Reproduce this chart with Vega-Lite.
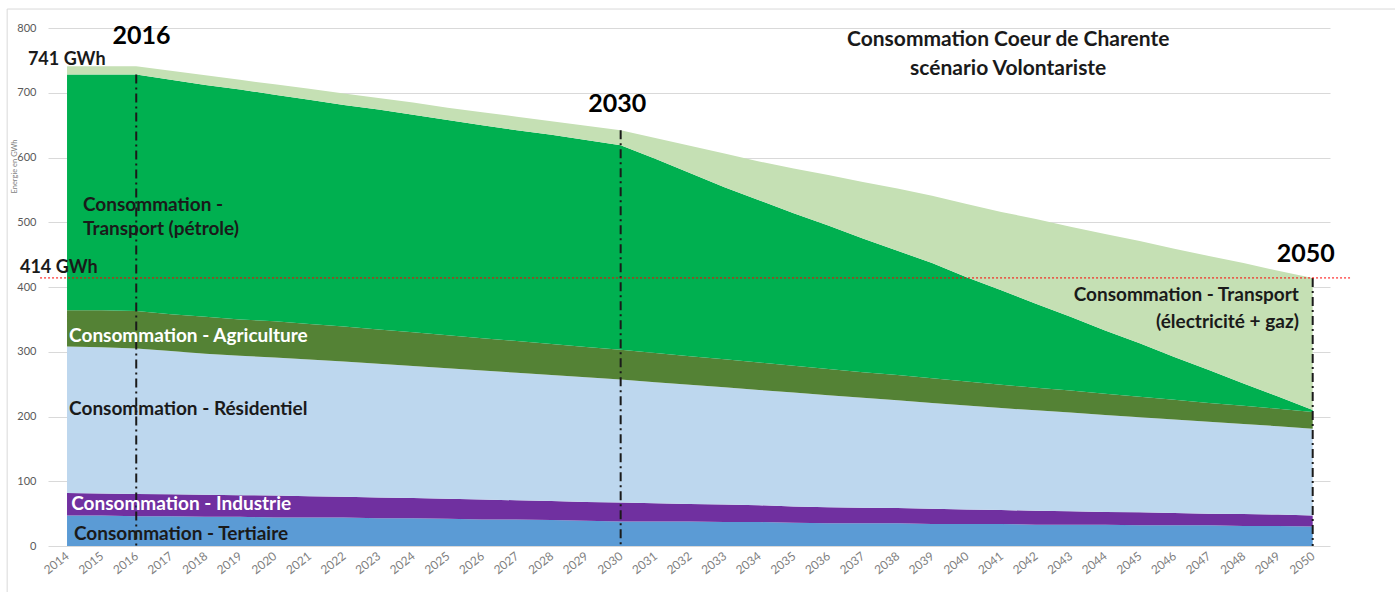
{
  "$schema": "https://vega.github.io/schema/vega-lite/v6.json",
  "width": 1282,
  "height": 518,
  "autosize": "none",
  "padding": {"left": 48, "top": 28, "right": 65, "bottom": 46},
  "background": "white",
  "config": {
    "view": {"stroke": null},
    "font": "Lato"
  },
  "datasets": {
    "rangs": [
      {"secteur": "tertiaire", "rang": 1},
      {"secteur": "industrie", "rang": 2},
      {"secteur": "residentiel", "rang": 3},
      {"secteur": "agriculture", "rang": 4},
      {"secteur": "petrole", "rang": 5},
      {"secteur": "elec_gaz", "rang": 6}
    ],
    "conso": [
      {"year": 2014, "tertiaire": 47, "industrie": 35, "residentiel": 226, "agriculture": 56, "petrole": 364, "elec_gaz": 13},
      {"year": 2015, "tertiaire": 47, "industrie": 34, "residentiel": 226, "agriculture": 57, "petrole": 364, "elec_gaz": 13},
      {"year": 2016, "tertiaire": 46, "industrie": 34.5, "residentiel": 224.5, "agriculture": 58, "petrole": 365, "elec_gaz": 13},
      {"year": 2017, "tertiaire": 46, "industrie": 34, "residentiel": 221, "agriculture": 57, "petrole": 362, "elec_gaz": 14},
      {"year": 2018, "tertiaire": 45, "industrie": 34, "residentiel": 218, "agriculture": 57, "petrole": 358, "elec_gaz": 15},
      {"year": 2019, "tertiaire": 45, "industrie": 33.5, "residentiel": 215.5, "agriculture": 56, "petrole": 355, "elec_gaz": 15},
      {"year": 2020, "tertiaire": 44, "industrie": 34, "residentiel": 213, "agriculture": 56, "petrole": 350, "elec_gaz": 16},
      {"year": 2021, "tertiaire": 44, "industrie": 33, "residentiel": 211, "agriculture": 55, "petrole": 346, "elec_gaz": 17},
      {"year": 2022, "tertiaire": 44, "industrie": 32, "residentiel": 209, "agriculture": 54, "petrole": 342, "elec_gaz": 18},
      {"year": 2023, "tertiaire": 43, "industrie": 32, "residentiel": 206.5, "agriculture": 53, "petrole": 339.5, "elec_gaz": 18},
      {"year": 2024, "tertiaire": 43, "industrie": 31, "residentiel": 204, "agriculture": 52, "petrole": 336, "elec_gaz": 19},
      {"year": 2025, "tertiaire": 42, "industrie": 31, "residentiel": 201.5, "agriculture": 51, "petrole": 332.5, "elec_gaz": 19},
      {"year": 2026, "tertiaire": 41, "industrie": 31, "residentiel": 199, "agriculture": 50, "petrole": 329, "elec_gaz": 20},
      {"year": 2027, "tertiaire": 41, "industrie": 29.5, "residentiel": 197, "agriculture": 49, "petrole": 325.5, "elec_gaz": 21},
      {"year": 2028, "tertiaire": 40, "industrie": 29.5, "residentiel": 194.5, "agriculture": 48, "petrole": 323, "elec_gaz": 21},
      {"year": 2029, "tertiaire": 39, "industrie": 29, "residentiel": 192.5, "agriculture": 47, "petrole": 319.5, "elec_gaz": 22},
      {"year": 2030, "tertiaire": 38, "industrie": 29, "residentiel": 190, "agriculture": 46, "petrole": 316, "elec_gaz": 23},
      {"year": 2031, "tertiaire": 38, "industrie": 28, "residentiel": 187, "agriculture": 45, "petrole": 300, "elec_gaz": 32},
      {"year": 2032, "tertiaire": 38, "industrie": 27, "residentiel": 184, "agriculture": 44, "petrole": 283, "elec_gaz": 42},
      {"year": 2033, "tertiaire": 37, "industrie": 27, "residentiel": 181, "agriculture": 43.5, "petrole": 265.5, "elec_gaz": 52},
      {"year": 2034, "tertiaire": 37, "industrie": 26, "residentiel": 178, "agriculture": 42.5, "petrole": 250.5, "elec_gaz": 60},
      {"year": 2035, "tertiaire": 36, "industrie": 25, "residentiel": 176, "agriculture": 41.5, "petrole": 235.5, "elec_gaz": 69},
      {"year": 2036, "tertiaire": 35, "industrie": 25, "residentiel": 173, "agriculture": 40.5, "petrole": 221.5, "elec_gaz": 78},
      {"year": 2037, "tertiaire": 35, "industrie": 24, "residentiel": 170, "agriculture": 39.5, "petrole": 206.5, "elec_gaz": 87},
      {"year": 2038, "tertiaire": 35, "industrie": 23.5, "residentiel": 166.5, "agriculture": 39, "petrole": 192, "elec_gaz": 96},
      {"year": 2039, "tertiaire": 34, "industrie": 23.5, "residentiel": 163.5, "agriculture": 38, "petrole": 178, "elec_gaz": 104},
      {"year": 2040, "tertiaire": 34, "industrie": 22.5, "residentiel": 160.5, "agriculture": 37, "petrole": 161, "elec_gaz": 113},
      {"year": 2041, "tertiaire": 34, "industrie": 21.5, "residentiel": 157.5, "agriculture": 36, "petrole": 146, "elec_gaz": 121},
      {"year": 2042, "tertiaire": 33, "industrie": 21.5, "residentiel": 155, "agriculture": 35, "petrole": 129.5, "elec_gaz": 131},
      {"year": 2043, "tertiaire": 33, "industrie": 20.5, "residentiel": 152.5, "agriculture": 34, "petrole": 114, "elec_gaz": 139},
      {"year": 2044, "tertiaire": 33, "industrie": 19.5, "residentiel": 150, "agriculture": 32.5, "petrole": 98, "elec_gaz": 149},
      {"year": 2045, "tertiaire": 32, "industrie": 20, "residentiel": 147, "agriculture": 31.5, "petrole": 82.5, "elec_gaz": 158},
      {"year": 2046, "tertiaire": 32, "industrie": 19, "residentiel": 144.5, "agriculture": 30.5, "petrole": 66, "elec_gaz": 167},
      {"year": 2047, "tertiaire": 32, "industrie": 18, "residentiel": 142, "agriculture": 29, "petrole": 51, "elec_gaz": 176},
      {"year": 2048, "tertiaire": 31, "industrie": 18.5, "residentiel": 139, "agriculture": 28, "petrole": 34.5, "elec_gaz": 186},
      {"year": 2049, "tertiaire": 31, "industrie": 17.5, "residentiel": 136.5, "agriculture": 27, "petrole": 19, "elec_gaz": 194},
      {"year": 2050, "tertiaire": 30, "industrie": 17, "residentiel": 134, "agriculture": 26, "petrole": 3, "elec_gaz": 204}
    ]
  },
  "encoding": {
    "x": {
      "field": "year", "type": "quantitative",
      "scale": {"domain": [2013.45, 2050.5], "nice": false, "zero": false},
      "axis": {
        "values": [2014,2015,2016,2017,2018,2019,2020,2021,2022,2023,2024,2025,2026,2027,2028,2029,2030,2031,2032,2033,2034,2035,2036,2037,2038,2039,2040,2041,2042,2043,2044,2045,2046,2047,2048,2049,2050],
        "format": "d", "title": null,
        "labelAngle": -38, "labelAlign": "right", "labelBaseline": "middle", "labelOverlap": false,
        "labelFontSize": 12, "labelColor": "#7f7f7f", "labelPadding": 8,
        "grid": false, "ticks": false, "domain": false, "labelFlush": false
      }
    }
  },
  "layer": [
    {
      "data": {"values": [{"year": 2012.27, "end": 2052.6, "bottom": -90, "top": 829.3}]},
      "mark": {"type": "rect", "fill": null, "stroke": "#d9d9d9", "strokeWidth": 1, "clip": false},
      "encoding": {
        "x2": {"field": "end"},
        "y": {"field": "top", "type": "quantitative"},
        "y2": {"field": "bottom"}
      }
    },
    {
      "data": {"name": "conso"},
      "transform": [
        {"fold": ["tertiaire", "industrie", "residentiel", "agriculture", "petrole", "elec_gaz"], "as": ["secteur", "gwh"]},
        {"lookup": "secteur", "from": {"data": {"name": "rangs"}, "key": "secteur", "fields": ["rang"]}}
      ],
      "mark": {"type": "area", "interpolate": "linear"},
      "encoding": {
        "y": {
          "field": "gwh", "type": "quantitative", "stack": "zero",
          "scale": {"domain": [0, 800], "nice": false},
          "axis": {
            "values": [0,100,200,300,400,500,600,700,800],
            "grid": true, "gridColor": "#d9d9d9", "gridWidth": 1,
            "ticks": false, "domain": false, "labelFontSize": 11, "labelColor": "#595959", "labelPadding": 12,
            "title": "Energie en GWh", "titleFontSize": 7.5, "titleColor": "#7f7f7f", "titleFontWeight": "normal",
            "titleY": 138, "titleX": -30
          }
        },
        "order": {"field": "rang", "type": "quantitative", "sort": "ascending"},
        "color": {
          "field": "secteur", "type": "nominal",
          "scale": {
            "domain": ["tertiaire", "industrie", "residentiel", "agriculture", "petrole", "elec_gaz"],
            "range": ["#5b9bd5", "#7030a0", "#bdd7ee", "#548235", "#00b050", "#c5e0b4"]
          },
          "legend": null
        }
      }
    },
    {
      "data": {"values": [{"year": 2016, "top": 728}, {"year": 2030, "top": 642}, {"year": 2050, "top": 414}]},
      "mark": {"type": "rule", "color": "#1a1a1a", "strokeWidth": 2, "strokeDash": [9, 4, 2, 4]},
      "encoding": {
        "y": {"field": "top", "type": "quantitative"},
        "y2": {"datum": 0}
      }
    },
    {
      "data": {"values": [{"year": 2013.22, "end": 2051.1, "level": 414}]},
      "mark": {"type": "rule", "color": "#ff0000", "strokeWidth": 1, "strokeDash": [2, 2]},
      "encoding": {
        "x2": {"field": "end"},
        "y": {"field": "level", "type": "quantitative"}
      }
    },
    {
      "data": {"values": [
        {"label": "Consommation -", "year": 2014.46, "value": 526.6},
        {"label": "Transport (pétrole)", "year": 2014.46, "value": 489.6},
        {"label": "Consommation - Résidentiel", "year": 2014.06, "value": 211.6},
        {"label": "Consommation - Tertiaire", "year": 2014.2, "value": 18.5}
      ]},
      "mark": {"type": "text", "align": "left", "baseline": "middle", "fontSize": 19, "fontWeight": "bold", "color": "#1a1a1a"},
      "encoding": {
        "y": {"field": "value", "type": "quantitative"},
        "text": {"field": "label"}
      }
    },
    {
      "data": {"values": [
        {"label": "Consommation - Agriculture", "year": 2014.06, "value": 324.3},
        {"label": "Consommation - Industrie", "year": 2014.12, "value": 64.9}
      ]},
      "mark": {"type": "text", "align": "left", "baseline": "middle", "fontSize": 19, "fontWeight": "bold", "color": "white"},
      "encoding": {
        "y": {"field": "value", "type": "quantitative"},
        "text": {"field": "label"}
      }
    },
    {
      "data": {"values": [
        {"label": "Consommation - Transport", "year": 2049.6, "value": 387.6},
        {"label": "(électricité + gaz)", "year": 2049.6, "value": 346}
      ]},
      "mark": {"type": "text", "align": "right", "baseline": "middle", "fontSize": 19, "fontWeight": "bold", "color": "#1a1a1a"},
      "encoding": {
        "y": {"field": "value", "type": "quantitative"},
        "text": {"field": "label"}
      }
    },
    {
      "data": {"values": [
        {"label": "2016", "year": 2016.15, "value": 787.6},
        {"label": "2030", "year": 2029.9, "value": 682.6},
        {"label": "2050", "year": 2049.8, "value": 451}
      ]},
      "mark": {"type": "text", "align": "center", "baseline": "middle", "fontSize": 25, "fontWeight": "bold", "color": "black"},
      "encoding": {
        "y": {"field": "value", "type": "quantitative"},
        "text": {"field": "label"}
      }
    },
    {
      "data": {"values": [
        {"label": "741 GWh", "year": 2012.87, "value": 750.6},
        {"label": "414 GWh", "year": 2012.64, "value": 429}
      ]},
      "mark": {"type": "text", "align": "left", "baseline": "middle", "fontSize": 18, "fontWeight": "bold", "color": "#1a1a1a"},
      "encoding": {
        "y": {"field": "value", "type": "quantitative"},
        "text": {"field": "label"}
      }
    },
    {
      "data": {"values": [
        {"label": "Consommation Coeur de Charente", "year": 2041.2, "value": 781.5},
        {"label": "scénario Volontariste", "year": 2041.2, "value": 736.7}
      ]},
      "mark": {"type": "text", "align": "center", "baseline": "middle", "fontSize": 21, "fontWeight": "bold", "color": "#1a1a1a"},
      "encoding": {
        "y": {"field": "value", "type": "quantitative"},
        "text": {"field": "label"}
      }
    }
  ]
}
